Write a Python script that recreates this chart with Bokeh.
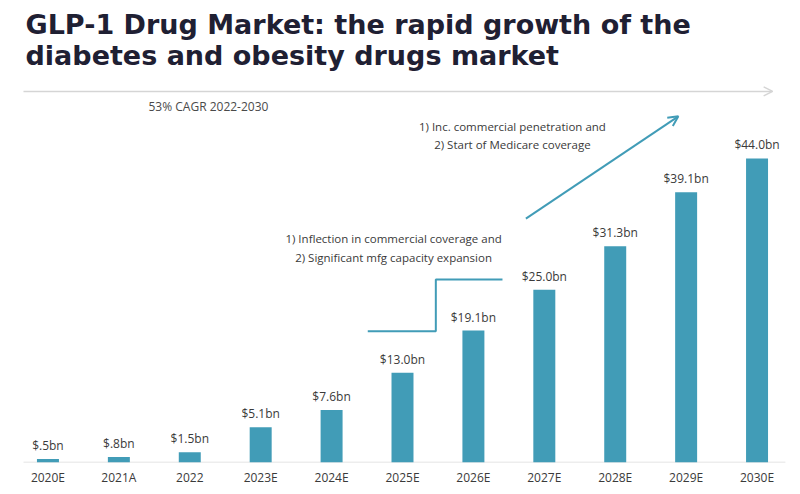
from bokeh.plotting import figure
from bokeh.models import (ColumnDataSource, Range1d, FixedTicker, LabelSet, Label,
                          Arrow, OpenHead)
from bokeh.core.properties import value
from bokeh.embed import file_html
from bokeh.resources import INLINE

# ---- data ----
years = ["2020E", "2021A", "2022", "2023E", "2024E", "2025E",
         "2026E", "2027E", "2028E", "2029E", "2030E"]
market_bn = [0.5, 0.8, 1.5, 5.1, 7.6, 13.0, 19.1, 25.0, 31.3, 39.1, 44.0]
value_labels = ["$.5bn", "$.8bn", "$1.5bn", "$5.1bn", "$7.6bn", "$13.0bn",
                "$19.1bn", "$25.0bn", "$31.3bn", "$39.1bn", "$44.0bn"]
title_lines = ["GLP-1 Drug Market: the rapid growth of the",
               "diabetes and obesity drugs market"]
cagr_text = "53% CAGR 2022-2030"
note_upper = ["1) Inc. commercial penetration and", "2) Start of Medicare coverage"]
note_lower = ["1) Inflection in commercial coverage and", "2) Significant mfg capacity expansion"]

# annotation geometry (x in category index units, y in $bn)
step_x = [4.51, 5.47, 5.47, 6.41]
step_y = [19.0, 19.0, 26.5, 26.5]
trend = dict(x0=6.74, y0=35.3, x1=8.89, y1=50.1)
timeline = dict(x0=-0.345, x1=10.22, y=53.7)
baseline = dict(x0=-0.345, x1=10.40, y=0)

BAR = "#419cb7"
TXT = "#3a3a3a"
FONT = "Open Sans"

idx = list(range(len(years)))
src = ColumnDataSource(dict(x=idx, top=market_bn, lab=value_labels))

p = figure(width=800, height=494, output_backend="svg", toolbar_location=None,
           x_range=Range1d(-0.5, 10.5), y_range=Range1d(0, 66.86),
           y_axis_location=None, min_border_left=12, min_border_right=8,
           min_border_top=0, min_border_bottom=32, title=None)
p.outline_line_color = None
p.xgrid.visible = False
p.ygrid.visible = False
p.background_fill_color = "white"
p.border_fill_color = "white"

xa = p.xaxis[0]
xa.ticker = FixedTicker(ticks=idx)
xa.major_label_overrides = {i: y for i, y in zip(idx, years)}
xa.axis_line_color = None
xa.major_tick_line_color = None
xa.minor_tick_line_color = None
xa.major_tick_out = 0
xa.major_tick_in = 0
xa.minor_tick_out = 0
xa.minor_tick_in = 0
xa.major_label_standoff = 6
xa.major_label_text_font = FONT
xa.major_label_text_font_size = "12px"
xa.major_label_text_color = TXT

# baseline and timeline arrow
p.segment(x0=[baseline["x0"]], y0=[baseline["y"]], x1=[baseline["x1"]], y1=[baseline["y"]],
          line_color="#dcdcdc", line_width=1.5)
p.add_layout(Arrow(x_start=timeline["x0"], y_start=timeline["y"],
                   x_end=timeline["x1"], y_end=timeline["y"],
                   line_color="#d5d5d5", line_width=1.5,
                   end=OpenHead(size=9, line_color="#d5d5d5", line_width=1.5)))

# bars
p.vbar(x="x", top="top", width=0.31, bottom=0, source=src,
       fill_color=BAR, line_color=None)
p.add_layout(LabelSet(x="x", y="top", text="lab", source=src, y_offset=5,
                      text_align="center", text_baseline="bottom",
                      text_font=value(FONT), text_font_size="12px", text_color=TXT))

# step line and trend arrow
p.line(x=step_x, y=step_y, line_color=BAR, line_width=2)
p.add_layout(Arrow(x_start=trend["x0"], y_start=trend["y0"],
                   x_end=trend["x1"], y_end=trend["y1"],
                   line_color=BAR, line_width=2,
                   end=OpenHead(size=10, line_color=BAR, line_width=2)))

# notes
for text, y in zip(note_upper, [48.6, 46.0]):
    p.add_layout(Label(x=6.55, y=y, text=text, text_align="center", text_baseline="middle",
                       text_font=FONT, text_font_size="11.5px", text_color=TXT))
for text, y in zip(note_lower, [32.4, 29.7]):
    p.add_layout(Label(x=4.874, y=y, text=text, text_align="center", text_baseline="middle",
                       text_font=FONT, text_font_size="11.5px", text_color=TXT))

p.add_layout(Label(x=1.418, y=51.5, text=cagr_text, text_align="left", text_baseline="middle",
                   text_font=FONT, text_font_size="12px", text_color="#4a4a4a"))

# title
for text, ys in zip(title_lines, [438, 407]):
    p.add_layout(Label(x=13, y=ys, x_units="screen", y_units="screen", text=text,
                       text_align="left", text_baseline="alphabetic",
                       text_font="DejaVu Sans", text_font_style="bold",
                       text_font_size="27px", text_color="#1f2033"))

open("out.html", "w").write(file_html(p, INLINE))
